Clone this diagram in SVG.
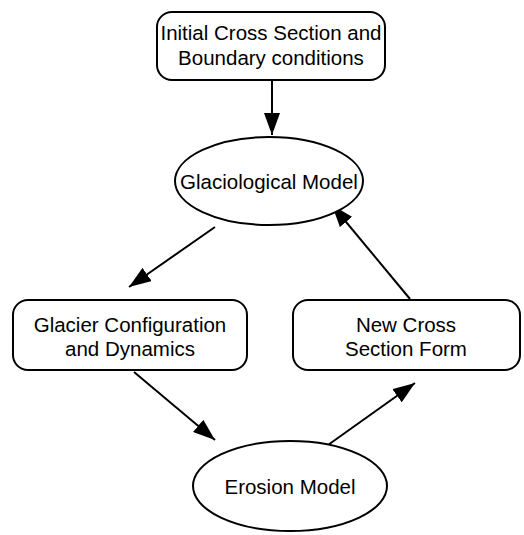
<svg xmlns="http://www.w3.org/2000/svg" width="524" height="535" viewBox="0 0 524 535">
<style>
.box{fill:#fff;stroke:#000;stroke-width:2}
.t{font-family:"Liberation Sans",Arial,sans-serif;font-size:20.5px;fill:#000;text-anchor:middle}
.c{stroke:#000;stroke-width:2;fill:none;marker-end:url(#ah)}
</style>
<defs>
<marker id="ah" viewBox="0 0 22 16" refX="22" refY="8" markerWidth="22" markerHeight="16" markerUnits="userSpaceOnUse" orient="auto">
<path d="M0,0 L22,8 L0,16 Z" fill="#000"/>
</marker>
</defs>
<rect width="524" height="535" fill="#fff"/>
<g id="connectors">
<line class="c" x1="272" y1="80" x2="272" y2="135"/>
<line class="c" x1="215" y1="227" x2="129" y2="287"/>
<line class="c" x1="134" y1="372" x2="215" y2="440"/>
<line class="c" x1="328" y1="445" x2="415" y2="383"/>
<line class="c" x1="410" y1="299" x2="332" y2="205"/>
</g>
<g id="n1">
<rect class="box" x="157" y="12" width="228" height="68" rx="15"/>
<text class="t" x="271" y="40">Initial Cross Section and</text>
<text class="t" x="271" y="65">Boundary conditions</text>
</g>
<g id="n2">
<ellipse class="box" cx="269" cy="181" rx="94" ry="44"/>
<text class="t" x="269" y="189">Glaciological Model</text>
</g>
<g id="n3">
<rect class="box" x="13" y="300" width="234" height="70" rx="15"/>
<text class="t" x="130" y="332">Glacier Configuration</text>
<text class="t" x="130" y="356">and Dynamics</text>
</g>
<g id="n4">
<rect class="box" x="293" y="300" width="227" height="70" rx="15"/>
<text class="t" x="406" y="332">New Cross</text>
<text class="t" x="406" y="356">Section Form</text>
</g>
<g id="n5">
<ellipse class="box" cx="290" cy="486" rx="97" ry="45"/>
<text class="t" x="290" y="494">Erosion Model</text>
</g>
</svg>
